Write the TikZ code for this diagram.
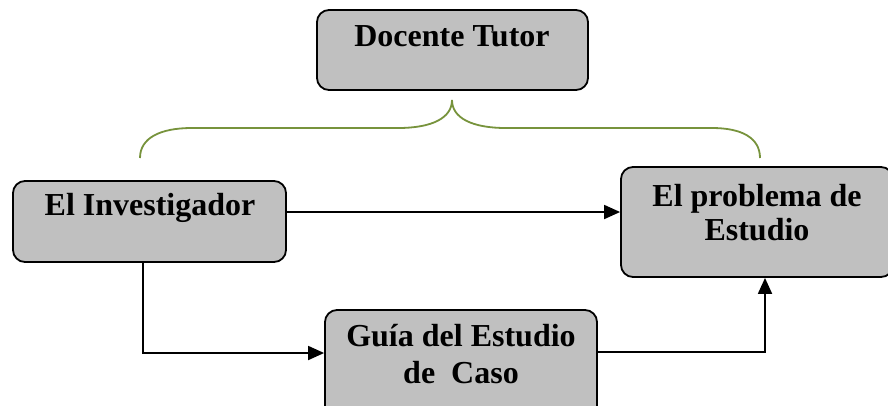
\documentclass[tikz,border=0pt]{standalone}
\usepackage{fontspec}
\setmainfont{Liberation Serif}
\usetikzlibrary{arrows.meta,calc}
\definecolor{boxgray}{HTML}{C0C0C0}
\definecolor{braceg}{HTML}{77933C}
\tikzset{
  box/.style={draw=black, line width=1.8pt, fill=boxgray, rounded corners=12pt, inner sep=0pt},
  txt/.style={font=\fontsize{32}{34}\selectfont\bfseries, align=center, inner sep=0pt},
  conn/.style={draw=black, line width=1.8pt},
  arr/.style={conn, -{Triangle[length=16pt,width=14pt]}},
  brace/.style={draw=braceg, line width=1.8pt}
}
\begin{document}
\begin{tikzpicture}[x=1pt,y=-1pt]
\useasboundingbox (0,0) rectangle (888,405);
\clip (0,0) rectangle (888,405);
% boxes
\node[box, minimum width=271pt, minimum height=80pt] (dt) at (452.5,50) {};
\node[txt] (dtt) at (452,36) {Docente Tutor};
\node[box, minimum width=273pt, minimum height=81pt] (inv) at (149.5,221.5) {};
\node[txt] (invt) at (150,208) {El Investigador};
\node[box, minimum width=272pt, minimum height=110pt] (prob) at (757,222) {};
\node[txt] (probt) at (757,213) {El problema de\\Estudio};
\node[box, minimum width=272pt, minimum height=110pt] (guia) at (461,365) {};
\node[txt, font=\fontsize{32}{37}\selectfont\bfseries] (guiat) at (461,354) {Guía del Estudio\\de\ \ Caso};
% brace
\draw[brace] (140,158) .. controls (140,138) and (160,128) .. (192,128) -- (398,128)
  .. controls (432,128) and (452,118) .. (452,100)
  .. controls (452,118) and (472,128) .. (506,128) -- (712,128)
  .. controls (742,128) and (760,138) .. (760,158);
% connectors
\draw[arr] (inv.east |- 0,212) -- (prob.west |- 0,212);
\coordinate (c1) at (143,353);
\coordinate (c2) at (765,352);
\draw[arr] (inv.south -| c1) -- (c1) -- (guia.west |- c1);
\draw[arr] (guia.east |- c2) -- (c2) -- (prob.south -| c2);
\end{tikzpicture}
\end{document}
